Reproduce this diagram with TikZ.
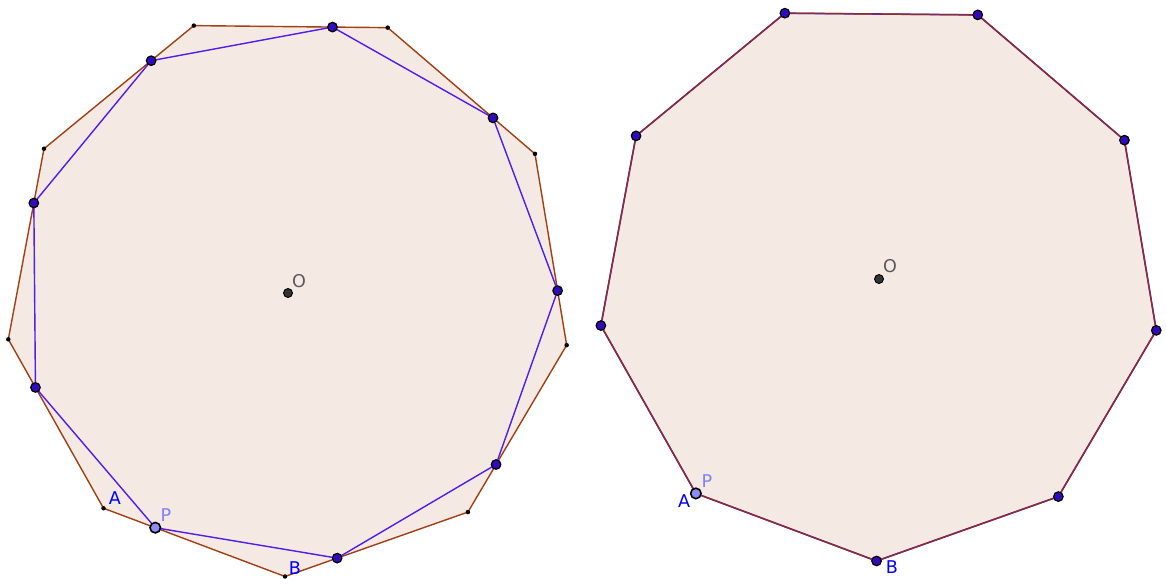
\documentclass[tikz,border=0pt]{standalone}
\usepackage{fontspec}
\setmainfont{DejaVu Sans}
\usetikzlibrary{calc}
\definecolor{polyfill}{RGB}{245,233,228}
\definecolor{polyedge}{RGB}{160,64,20}
\definecolor{redge}{RGB}{140,45,40}
\definecolor{segblue}{RGB}{80,30,230}
\definecolor{ptdark}{RGB}{50,10,190}
\definecolor{ptlight}{RGB}{140,140,245}
\definecolor{lblblue}{RGB}{0,0,255}
\definecolor{lbllight}{RGB}{128,128,255}
\definecolor{lblgray}{RGB}{90,90,90}
\tikzset{
  polyshape/.style={fill=polyfill, draw=polyedge, line width=0.8pt, line join=round},
  segline/.style={draw=segblue, line width=0.8pt},
  vtxsmall/.style={circle, fill=black, inner sep=0pt, minimum size=0.09cm},
  vtxpt/.style={circle, fill=ptdark, draw=black, line width=0.7pt, inner sep=0pt, minimum size=0.19cm},
  ptP/.style={circle, fill=ptlight, draw=black, line width=0.9pt, inner sep=0pt, minimum size=0.21cm},
  ctrpt/.style={circle, fill=black!80, draw=black, line width=0.5pt, inner sep=0pt, minimum size=0.18cm},
  lbl/.style={font=\fontsize{10}{12}\selectfont, inner sep=0pt},
}
\begin{document}
\begin{tikzpicture}[x=0.02cm, y=-0.02cm]
\useasboundingbox (0,0) rectangle (1166,583);
% ---------- left figure ----------
\coordinate (OL) at (288,293);
\foreach \i in {0,...,8}{
  \coordinate (L\i) at ($(OL)+({283.5*cos(-130.6+40*\i)},{-283.5*sin(-130.6+40*\i)})$);
}
\foreach \i [evaluate=\i as \j using {int(mod(\i+1,9))}] in {0,...,8}{
  \coordinate (Q\i) at ($(L\i)!0.285!(L\j)$);
}
\fill[polyshape] (L0) -- (L1) -- (L2) -- (L3) -- (L4) -- (L5) -- (L6) -- (L7) -- (L8) -- cycle;
\draw[segline] (Q0) -- (Q1) -- (Q2) -- (Q3) -- (Q4) -- (Q5) -- (Q6) -- (Q7) -- (Q8) -- cycle;
\foreach \i in {0,...,8}{ \node[vtxsmall] at (L\i) {}; }
\foreach \i in {1,...,8}{ \node[vtxpt] at (Q\i) {}; }
\node[ptP] (PL) at (Q0) {};
\node[ctrpt] (CL) at (OL) {};
\node[lbl, text=lblgray] at (299,281) {O};
\node[lbl, text=lblblue] at (115,498) {A};
\node[lbl, text=lbllight] at (166,515) {P};
\node[lbl, text=lblblue] at (295,568) {B};
% ---------- right figure ----------
\coordinate (OR) at (879,279);
\foreach \i in {0,...,8}{
  \coordinate (R\i) at ($(OR)+({282*cos(-130.5+40*\i)},{-282*sin(-130.5+40*\i)})$);
}
\fill[polyfill] (R0) -- (R1) -- (R2) -- (R3) -- (R4) -- (R5) -- (R6) -- (R7) -- (R8) -- cycle;
\draw[segline, line width=0.9pt] (R0) -- (R1) -- (R2) -- (R3) -- (R4) -- (R5) -- (R6) -- (R7) -- (R8) -- cycle;
\draw[draw=redge, line width=0.8pt, line join=round] (R0) -- (R1) -- (R2) -- (R3) -- (R4) -- (R5) -- (R6) -- (R7) -- (R8) -- cycle;
\foreach \i in {1,...,8}{ \node[vtxpt] at (R\i) {}; }
\node[ptP] (PR) at (R0) {};
\node[ctrpt] (CR) at (OR) {};
\node[lbl, text=lblgray] at (890,266) {O};
\node[lbl, text=lbllight] at (707,481) {P};
\node[lbl, text=lblblue] at (684,501) {A};
\node[lbl, text=lblblue] at (892,567) {B};
\end{tikzpicture}
\end{document}
